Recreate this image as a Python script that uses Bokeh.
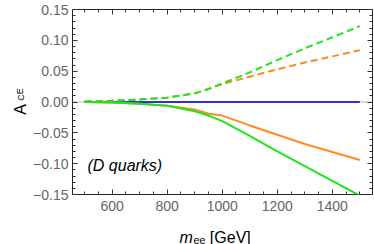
from bokeh.plotting import figure
from bokeh.models import Range1d, LinearAxis, FixedTicker, Label, Span
from bokeh.embed import file_html
from bokeh.resources import INLINE

# --- data ---
mee = [500, 600, 700, 800, 900, 950, 1000, 1100, 1200, 1300, 1400, 1500]
green_dashed = [0.001, 0.002, 0.004, 0.007, 0.014, 0.021, 0.030, 0.048, 0.068, 0.087, 0.105, 0.123]
orange_dashed = [0.001, 0.002, 0.004, 0.007, 0.014, 0.021, 0.029, 0.041, 0.053, 0.064, 0.074, 0.084]
orange_solid = [0.000, -0.001, -0.003, -0.006, -0.012, -0.019, -0.022, -0.038, -0.053, -0.068, -0.081, -0.094]
green_solid = [0.000, -0.001, -0.003, -0.006, -0.015, -0.022, -0.031, -0.055, -0.080, -0.104, -0.128, -0.152]
blue_line = [0.0] * len(mee)

x_major = [600, 800, 1000, 1200, 1400]
x_minor = [500, 550, 650, 700, 750, 850, 900, 950, 1050, 1100, 1150, 1250, 1300, 1350, 1450, 1500]
y_major = [-0.15, -0.10, -0.05, 0.0, 0.05, 0.10, 0.15]
y_labels = ["\u22120.15", "\u22120.10", "\u22120.05", "0.00", "0.05", "0.10", "0.15"]
y_minor = [round(-0.15 + 0.01 * i, 2) for i in range(31)]

GREEN = "#1ee61e"
ORANGE = "#ff8a1e"
BLUE = "#2f2fdc"
TICK_COLOR = "#666666"
FONT = "Liberation Sans"

p = figure(width=374, height=244, output_backend="svg", toolbar_location=None,
           x_range=Range1d(456, 1546), y_range=Range1d(-0.15, 0.15),
           x_axis_type=None, y_axis_type=None,
           min_border_left=72, min_border_right=2, min_border_top=9, min_border_bottom=50)
p.grid.visible = False
p.outline_line_color = "#222222"
p.outline_line_width = 1
p.background_fill_color = "white"
p.border_fill_color = "white"

def make_axis(show_labels):
    ax = LinearAxis()
    ax.axis_line_color = None
    ax.major_tick_in = 5
    ax.major_tick_out = 0
    ax.minor_tick_in = 3
    ax.minor_tick_out = 0
    ax.major_tick_line_color = "#333333"
    ax.minor_tick_line_color = "#333333"
    if show_labels:
        ax.major_label_text_font = FONT
        ax.major_label_text_font_size = "14px"
        ax.major_label_text_color = TICK_COLOR
    else:
        ax.major_label_text_font_size = "1px"
        ax.major_label_text_color = None
        ax.major_label_standoff = 0
    return ax

xt = FixedTicker(ticks=x_major, minor_ticks=x_minor)
yt = FixedTicker(ticks=y_major, minor_ticks=y_minor)

bx = make_axis(True); bx.ticker = xt; bx.major_label_standoff = 6
tx = make_axis(False); tx.ticker = xt
ly = make_axis(True); ly.ticker = yt; ly.major_label_standoff = 4
ly.major_label_overrides = {v: s for v, s in zip(y_major, y_labels)}
ry = make_axis(False); ry.ticker = yt

p.add_layout(bx, "below")
p.add_layout(tx, "above")
p.add_layout(ly, "left")
p.add_layout(ry, "right")

p.add_layout(Span(location=0, dimension="width", line_color="#bbbbbb", line_width=1,
                  level="underlay"))

p.line(mee, blue_line, line_color=BLUE, line_width=2)
p.line(mee, orange_solid, line_color=ORANGE, line_width=2)
p.line(mee, green_solid, line_color=GREEN, line_width=2)
p.line(mee, orange_dashed, line_color=ORANGE, line_width=2, line_dash="7 4")
p.line(mee, green_dashed, line_color=GREEN, line_width=2, line_dash="7 4")

# annotation text inside the frame
p.add_layout(Label(x=15, y=29, x_units="screen", y_units="screen", text="(D quarks)",
                   text_font=FONT, text_font_style="italic", text_font_size="16px",
                   text_color="black", text_align="left", text_baseline="middle"))

def outer_label(x, y, text, size, place, style="normal", angle=0.0, align="left"):
    # x, y: canvas pixel position (origin top-left); placed in a side panel so it is not clipped
    lab = Label(x=x, y=y, x_units="canvas", y_units="canvas", text=text,
                text_font=FONT, text_font_style=style, text_font_size=size,
                text_color="black", text_align=align, text_baseline="alphabetic",
                angle=angle)
    p.add_layout(lab, place)

# y axis label A_CE (rotated)
outer_label(20, 109, "A", "16px", "below", angle=1.5708, align="center")
outer_label(20, 94, "CE", "9px", "left", angle=1.5708, align="center")

# x axis label m_ee [GeV]
outer_label(179, 237, "m", "16px", "left", style="italic")
outer_label(193, 237, "\u2091\u2091 [GeV]", "16px", "below")

open("out.html", "w").write(file_html(p, INLINE))
